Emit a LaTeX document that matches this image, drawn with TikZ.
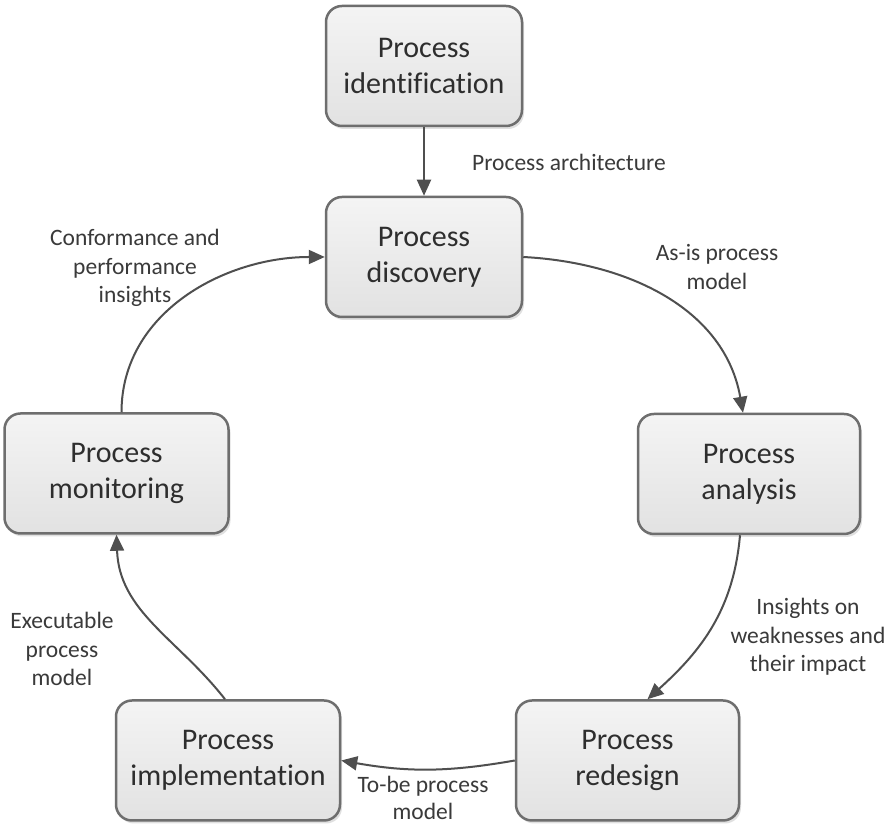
\documentclass[tikz,border=0pt]{standalone}
\usepackage{fontspec}
\setmainfont[Ligatures=NoCommon]{Carlito}
\usetikzlibrary{arrows.meta,shadows}
\definecolor{boxline}{HTML}{6E6E6E}
\definecolor{boxtop}{HTML}{F4F4F4}
\definecolor{boxbot}{HTML}{E2E2E2}
\definecolor{txt}{HTML}{2E2E2E}
\definecolor{lbltxt}{HTML}{3A3A3A}
\definecolor{arrowc}{HTML}{4F4F4F}
\begin{document}
\begin{tikzpicture}[x=1pt,y=1pt,
  pbox/.style={draw=boxline, line width=2.5pt, rounded corners=16pt,
    top color=boxtop, bottom color=boxbot, minimum height=120pt,
    align=center, font=\fontsize{30}{36}\selectfont, text=txt,
    drop shadow={shadow xshift=2pt, shadow yshift=-3pt, opacity=0.2, fill=black!60}},
  lbl/.style={align=center, font=\fontsize{23.5}{28.5}\selectfont, text=lbltxt, inner sep=0pt},
  flow/.style={draw=arrowc, line width=2pt, -{Triangle[length=16pt,width=14pt]}}]
\useasboundingbox (0,0) rectangle (887,829);
\fill[white] (0,0) rectangle (887,829);

\node[pbox, minimum width=196pt] (ident) at (424,763) {Process\\identification};
\node[pbox, minimum width=196pt] (disc) at (424,572) {Process\\discovery};
\node[pbox, minimum width=222pt] (ana) at (749,355) {Process\\analysis};
\node[pbox, minimum width=224pt] (mon) at (116.5,355.5) {Process\\monitoring};
\node[pbox, minimum width=224pt] (impl) at (228,68.5) {Process\\implementation};
\node[pbox, minimum width=223pt] (red) at (627.5,68.5) {Process\\redesign};

\draw[flow] (ident.south) -- (disc.north);
\draw[flow] (disc.east) to[out=-3, in=100] ([xshift=-6pt]ana.north);
\draw[flow] ([xshift=-9pt]ana.south) to[out=-95, in=42] ([xshift=20pt]red.north);
\draw[flow] (red.west) to[out=190, in=-10] (impl.east);
\draw[flow] ([xshift=-3pt]impl.north) to[out=128, in=-88] (mon.south);
\draw[flow] ([xshift=5pt]mon.north) to[out=90, in=180] (disc.west);

\node[lbl, anchor=west] (l1) at (472,667) {Process architecture};
\node[lbl] (l2) at (717,562) {As-is process\\model};
\node[lbl] (l3) at (808,192) {Insights on\\weaknesses and\\their impact};
\node[lbl, font=\fontsize{23.5}{27}\selectfont] (l4) at (423,31) {To-be process\\model};
\node[lbl] (l5) at (62,180) {Executable\\process\\model};
\node[lbl] (l6) at (135,561) {Conformance and\\performance\\insights};
\end{tikzpicture}
\end{document}
